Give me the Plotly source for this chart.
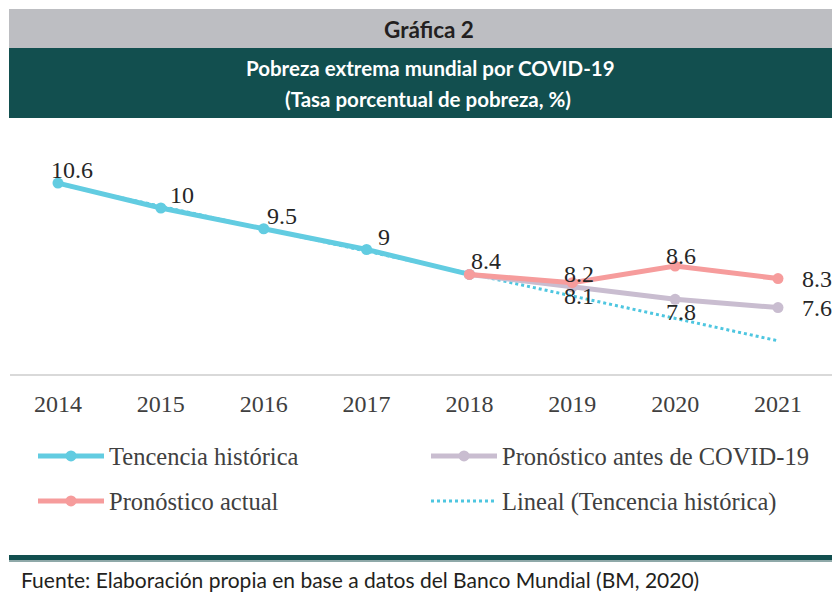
import plotly.graph_objects as go

# ---------------- data ----------------
years = [2014, 2015, 2016, 2017, 2018, 2019, 2020, 2021]
hist_years = [2014, 2015, 2016, 2017, 2018]
hist_vals = [10.6, 10.0, 9.5, 9.0, 8.4]
fc_years = [2018, 2019, 2020, 2021]
pre_covid_vals = [8.4, 8.1, 7.8, 7.6]
actual_vals = [8.4, 8.2, 8.6, 8.3]
trend_vals = [10.58, 10.04, 9.5, 8.96, 8.42, 7.88, 7.34, 6.8]
tick_labels = ["2014", "2015", "2016", "2017", "2018", "2019", "2020", "2021"]

names = ["Tencencia histórica", "Pronóstico antes de COVID-19",
         "Pronóstico actual", "Lineal (Tencencia histórica)"]

C_BLUE = "#62CCE1"
C_GREY = "#C9BDD0"
C_PINK = "#F69C9C"
C_TEAL = "#124F4F"
C_BAND = "#BDBEC2"

# page body has an 8px margin: draw in a figure that is offset accordingly
OFF = 8
W, H = 840 - OFF, 593 - OFF
PLOT_LEFT, PLOT_RIGHT, PLOT_TOP, PLOT_BOTTOM = 10, 832, 125, 374  # reference pixels
L = PLOT_LEFT - OFF
R = W - (PLOT_RIGHT - OFF)
T = PLOT_TOP - OFF
B = H - (PLOT_BOTTOM - OFF)
PW, PH = W - L - R, H - T - B


def px(x):
    return (x - OFF - L) / PW


def py(y):
    return (H - B - (y - OFF)) / PH


SERIF = "Liberation Serif"

fig = go.Figure()
# trend drawn first so it sits beneath the solid series
fig.add_trace(go.Scatter(x=years, y=trend_vals, mode="lines", name=names[3],
                         line=dict(color="#4EC6E0", width=3, dash="dot"),
                         legend="legend2", legendrank=2))
fig.add_trace(go.Scatter(x=hist_years, y=hist_vals, mode="lines+markers", name=names[0],
                         line=dict(color=C_BLUE, width=5), marker=dict(size=11, color=C_BLUE),
                         legend="legend", legendrank=1))
fig.add_trace(go.Scatter(x=fc_years, y=pre_covid_vals, mode="lines+markers", name=names[1],
                         line=dict(color=C_GREY, width=5), marker=dict(size=11, color=C_GREY),
                         legend="legend", legendrank=2))
fig.add_trace(go.Scatter(x=fc_years, y=actual_vals, mode="lines+markers", name=names[2],
                         line=dict(color=C_PINK, width=5), marker=dict(size=11, color=C_PINK),
                         legend="legend2", legendrank=1))

# data labels
lab_font = dict(family=SERIF, size=24, color="#262626")
hist_dx = [0, 7, 1, 9, 0]
for i, (x, v) in enumerate(zip(hist_years, hist_vals)):
    fig.add_annotation(x=x, y=v, text=f"{v:g}", showarrow=False,
                       xanchor="center" if i == 0 else "left",
                       yanchor="middle", xshift=14 if i == 0 else hist_dx[i], yshift=13, font=lab_font)
pink_shift = {2019: (7, 9), 2020: (6, 10)}
for x, v in zip(fc_years[1:3], actual_vals[1:3]):
    dx, dy = pink_shift[x]
    fig.add_annotation(x=x, y=v, text=f"{v:g}", showarrow=False, xanchor="center", yanchor="middle",
                       xshift=dx, yshift=dy, font=lab_font)
grey_shift = {2019: (7, -9), 2020: (6, -13)}
for x, v in zip(fc_years[1:3], pre_covid_vals[1:3]):
    dx, dy = grey_shift[x]
    fig.add_annotation(x=x, y=v, text=f"{v:g}", showarrow=False, xanchor="center", yanchor="middle",
                       xshift=dx, yshift=dy, font=lab_font)
fig.add_annotation(x=fc_years[-1], y=actual_vals[-1], text=f"{actual_vals[-1]:g}", showarrow=False,
                   xanchor="left", yanchor="middle", xshift=22, font=lab_font)
fig.add_annotation(x=fc_years[-1], y=pre_covid_vals[-1], text=f"{pre_covid_vals[-1]:g}", showarrow=False,
                   xanchor="left", yanchor="middle", xshift=22, font=lab_font)

# header bands
fig.add_shape(type="rect", xref="paper", yref="paper", x0=px(9), x1=px(845), y0=py(48), y1=py(9),
              fillcolor=C_BAND, line_width=0, layer="below")
fig.add_shape(type="rect", xref="paper", yref="paper", x0=px(9), x1=px(845), y0=py(118), y1=py(48),
              fillcolor=C_TEAL, line_width=0, layer="below")
fig.add_shape(type="rect", xref="paper", yref="paper", x0=px(9), x1=px(845), y0=py(560), y1=py(555),
              fillcolor=C_TEAL, line_width=0)
fig.add_shape(type="rect", xref="paper", yref="paper", x0=px(9), x1=px(845), y0=py(562), y1=py(560),
              fillcolor="#8FA9A9", line_width=0)

fig.add_annotation(xref="paper", yref="paper", x=px(429), y=py(30), text="<b>Gráfica 2</b>",
                   showarrow=False, xanchor="center", yanchor="middle",
                   font=dict(family="Lato", size=22.5, color="#231F20"))
fig.add_annotation(xref="paper", yref="paper", x=px(430), y=py(68),
                   text="<b>Pobreza extrema mundial por COVID-19</b>",
                   showarrow=False, xanchor="center", yanchor="middle",
                   font=dict(family="Lato", size=20.5, color="white"))
fig.add_annotation(xref="paper", yref="paper", x=px(428), y=py(99),
                   text="<b>(Tasa porcentual de pobreza, %)</b>",
                   showarrow=False, xanchor="center", yanchor="middle",
                   font=dict(family="Lato", size=20.5, color="white"))
fig.add_annotation(xref="paper", yref="paper", x=px(19), y=py(579),
                   text="Fuente: Elaboración propia en base a datos del Banco Mundial (BM, 2020)",
                   showarrow=False, xanchor="left", yanchor="middle",
                   font=dict(family="Lato", size=21, color="#231F20"))

leg_common = dict(orientation="h", xref="container", yref="container", xanchor="left", yanchor="middle",
                  font=dict(family=SERIF, size=24.5, color="#404040"), bgcolor="rgba(0,0,0,0)",
                  itemwidth=66, entrywidth=312, entrywidthmode="pixels", traceorder="normal")

fig.update_layout(
    width=W, height=H,
    margin=dict(l=L, r=R, t=T, b=B),
    paper_bgcolor="white", plot_bgcolor="white",
    showlegend=True,
    legend=dict(x=(33 - OFF) / W, y=1 - (456 - OFF) / H, **leg_common),
    legend2=dict(x=(33 - OFF) / W, y=1 - (501 - OFF) / H, **leg_common),
    xaxis=dict(range=[2014 - 48 / (720 / 7), 2021 + 54 / (720 / 7)], tickvals=years, ticktext=tick_labels,
               showgrid=False, zeroline=False, showline=True, linecolor="#D9D9D9", linewidth=2,
               ticks="outside", ticklen=7, tickcolor="rgba(0,0,0,0)",
               tickfont=dict(family=SERIF, size=24, color="#404040")),
    yaxis=dict(range=[6, 12], visible=False),
)

fig.write_html("out.html")
